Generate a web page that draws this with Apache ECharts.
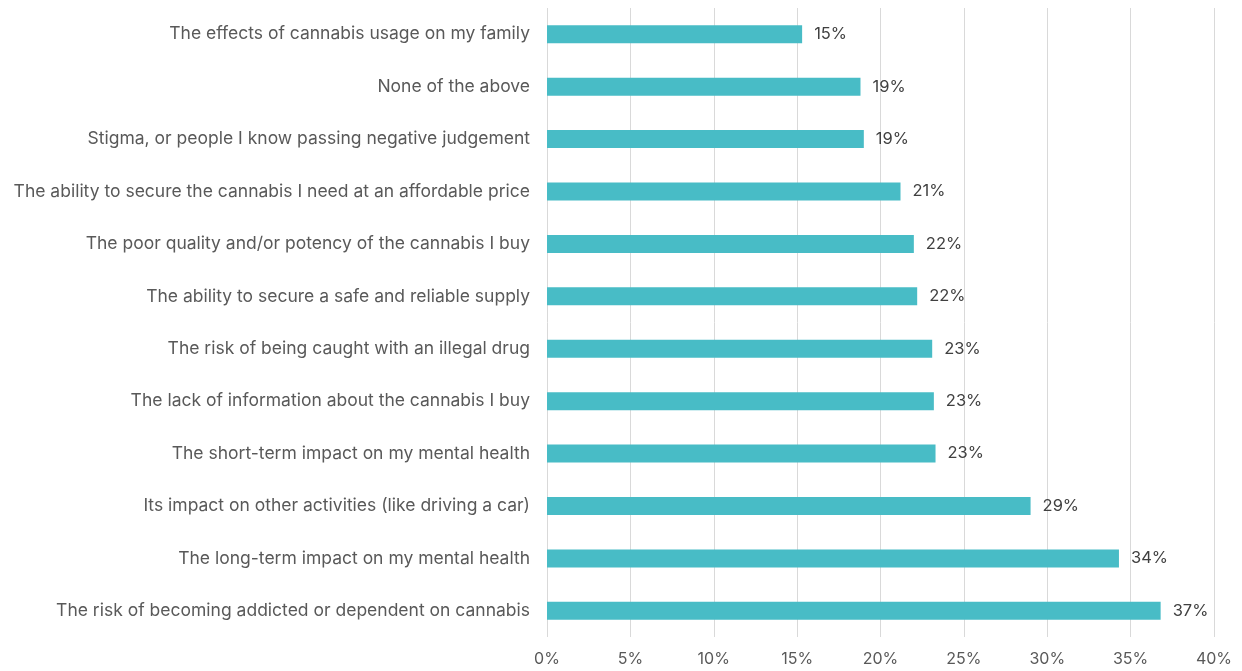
<!DOCTYPE html>
<html>
<head>
<meta charset="utf-8">
<script src="https://cdn.jsdelivr.net/npm/echarts@6/dist/echarts.min.js"></script>
<style>
  html, body { margin: 0; padding: 0; background: #fff; }
  #chart { width: 1242px; height: 671px; }
</style>
</head>
<body>
<div id="chart"></div>
<script>
// Concerns about cannabis use, share of respondents (%)
const categories = [
  'The effects of cannabis usage on my family',
  'None of the above',
  'Stigma, or people I know passing negative judgement',
  'The ability to secure the cannabis I need at an affordable price',
  'The poor quality and/or potency of the cannabis I buy',
  'The ability to secure a safe and reliable supply',
  'The risk of being caught with an illegal drug',
  'The lack of information about the cannabis I buy',
  'The short-term impact on my mental health',
  'Its impact on other activities (like driving a car)',
  'The long-term impact on my mental health',
  'The risk of becoming addicted or dependent on cannabis'
];
const shares = [15.3, 18.8, 19.0, 21.2, 22.0, 22.2, 23.1, 23.2, 23.3, 29.0, 34.3, 36.8];
const xTicks = [0, 5, 10, 15, 20, 25, 30, 35, 40];

const FONT = 'Inter';
const chart = echarts.init(document.getElementById('chart'), null, { renderer: 'canvas' });
chart.setOption({
  animation: false,
  grid: { left: 547, right: 28, top: 8, bottom: 34, containLabel: false },
  xAxis: {
    type: 'value',
    min: xTicks[0],
    max: xTicks[xTicks.length - 1],
    interval: xTicks[1] - xTicks[0],
    axisLine: { show: false },
    axisTick: { show: false },
    splitLine: { show: true, lineStyle: { color: '#d9d9d9', width: 1 } },
    axisLabel: {
      formatter: v => v + '%',
      color: '#595959',
      fontFamily: FONT,
      fontSize: 16,
      margin: 14
    }
  },
  yAxis: {
    type: 'category',
    data: categories,
    inverse: true,
    axisLine: { show: false },
    axisTick: { show: false },
    axisLabel: {
      color: '#595959',
      fontFamily: FONT,
      fontSize: 17.5,
      margin: 17
    }
  },
  series: [{
    type: 'bar',
    data: shares,
    barWidth: 18,
    itemStyle: { color: '#48BCC6' },
    label: {
      show: true,
      position: 'right',
      distance: 12,
      formatter: p => Math.round(p.value) + '%',
      color: '#404040',
      fontFamily: FONT,
      fontSize: 16.5
    }
  }]
});
</script>
</body>
</html>
